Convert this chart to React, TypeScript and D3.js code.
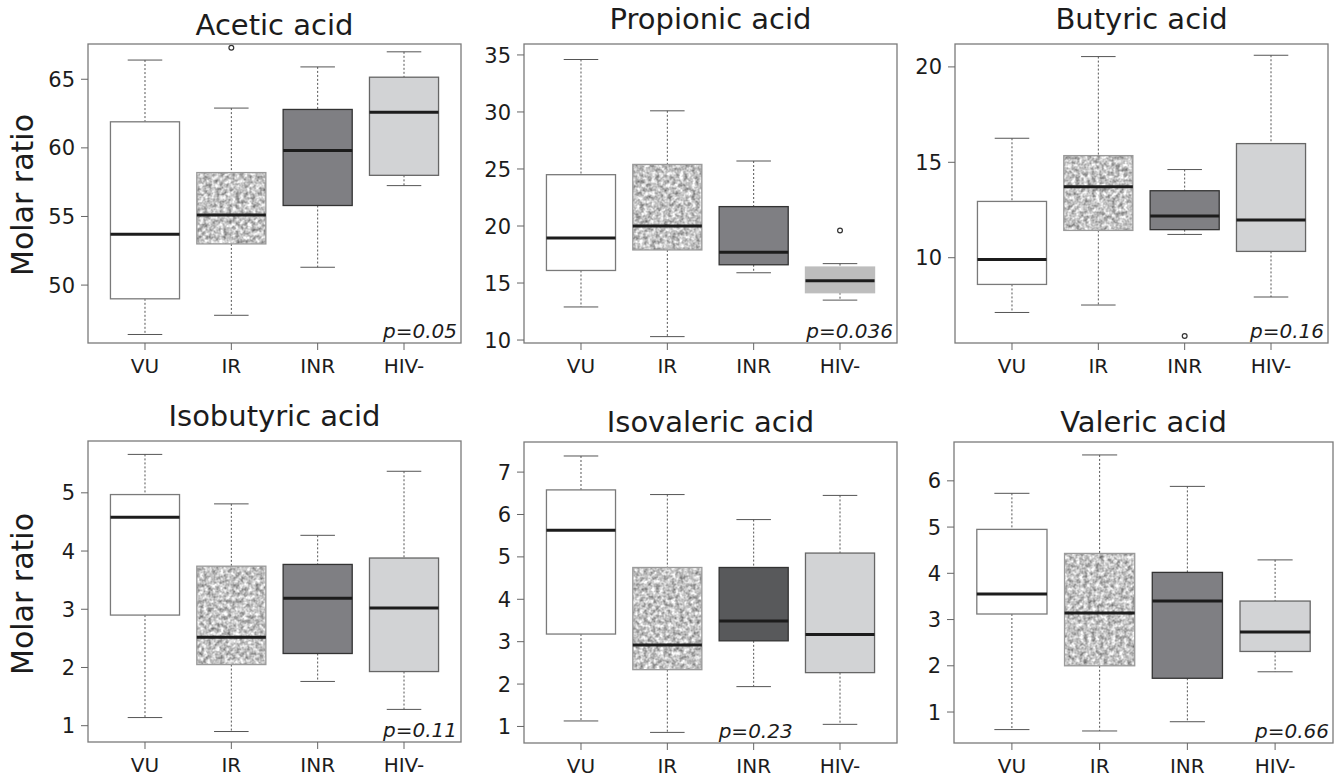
import React from 'react';
import * as d3 from 'd3';

// groups on the x axis
const groups = ['VU', 'IR', 'INR', 'HIV-'];

// box summaries per group: [lower whisker, Q1, median, Q3, upper whisker]
const acetic = [[46.4, 49.0, 53.7, 61.9, 66.4], [47.8, 53.0, 55.1, 58.2, 62.9], [51.3, 55.8, 59.8, 62.8, 65.9], [57.25, 58.0, 62.6, 65.15, 67.0]];
const aceticOut = [[], [67.3], [], []];
const aceticTicks = [50, 55, 60, 65];
const aceticRange = [45.78, 67.57];

const propionic = [[12.9, 16.1, 18.95, 24.5, 34.6], [10.3, 17.9, 20.0, 25.4, 30.1], [15.9, 16.6, 17.7, 21.7, 25.7], [13.5, 14.15, 15.2, 16.4, 16.7]];
const propionicOut = [[], [], [], [19.6]];
const propionicTicks = [10, 15, 20, 25, 30, 35];
const propionicRange = [9.74, 35.96];

const butyric = [[7.13, 8.6, 9.9, 12.95, 16.26], [7.52, 11.43, 13.72, 15.35, 20.54], [11.22, 11.47, 12.19, 13.51, 14.62], [7.94, 10.33, 11.98, 15.98, 20.61]];
const butyricOut = [[], [], [5.9], []];
const butyricTicks = [10, 15, 20];
const butyricRange = [5.53, 21.2];

const isobutyric = [[1.14, 2.9, 4.58, 4.97, 5.66], [0.9, 2.05, 2.52, 3.74, 4.81], [1.76, 2.24, 3.19, 3.77, 4.27], [1.28, 1.93, 3.02, 3.88, 5.37]];
const isobutyricOut = [[], [], [], []];
const isobutyricTicks = [1, 2, 3, 4, 5];
const isobutyricRange = [0.72, 5.89];

const isovaleric = [[1.13, 3.18, 5.63, 6.58, 7.38], [0.86, 2.34, 2.92, 4.75, 6.47], [1.94, 3.02, 3.49, 4.75, 5.88], [1.05, 2.27, 3.17, 5.09, 6.45]];
const isovalericOut = [[], [], [], []];
const isovalericTicks = [1, 2, 3, 4, 5, 6, 7];
const isovalericRange = [0.61, 7.71];

const valeric = [[0.62, 3.12, 3.55, 4.95, 5.73], [0.59, 2.0, 3.14, 4.43, 6.56], [0.79, 1.73, 3.4, 4.02, 5.88], [1.87, 2.31, 2.73, 3.4, 4.29]];
const valericOut = [[], [], [], []];
const valericTicks = [1, 2, 3, 4, 5, 6];
const valericRange = [0.33, 6.84];

const titles = ['Acetic acid', 'Propionic acid', 'Butyric acid', 'Isobutyric acid', 'Isovaleric acid', 'Valeric acid'];
const pLabels = ['p=0.05', 'p=0.036', 'p=0.16', 'p=0.11', 'p=0.23', 'p=0.66'];

const FONT = '"DejaVu Sans", sans-serif';
const INK = '#1c1c1c';

const baseFills = ['#ffffff', 'url(#speckle)', '#7f7f83', '#d2d3d5'];
const boxStrokes = ['#7a7a7a', '#9a9a9a', '#333333', '#666666'];

const panels = [
  { stats: acetic, out: aceticOut, ticks: aceticTicks, range: aceticRange, x0: 88, x1: 461, y0: 44, y1: 343, titleY: 35, pMid: false },
  { stats: propionic, out: propionicOut, ticks: propionicTicks, range: propionicRange, x0: 524, x1: 897, y0: 44, y1: 343, titleY: 29, pMid: false, fills: { 3: '#bdbdbd' }, strokes: { 3: '#bdbdbd' } },
  { stats: butyric, out: butyricOut, ticks: butyricTicks, range: butyricRange, x0: 955, x1: 1328, y0: 44, y1: 343, titleY: 29, pMid: false },
  { stats: isobutyric, out: isobutyricOut, ticks: isobutyricTicks, range: isobutyricRange, x0: 88, x1: 461, y0: 441, y1: 742, titleY: 426, pMid: false },
  { stats: isovaleric, out: isovalericOut, ticks: isovalericTicks, range: isovalericRange, x0: 524, x1: 897, y0: 442, y1: 743, titleY: 432, pMid: true, fills: { 2: '#58595b' } },
  { stats: valeric, out: valericOut, ticks: valericTicks, range: valericRange, x0: 954, x1: 1333, y0: 442, y1: 743, titleY: 432, pMid: false },
];

function Panel({ p, i }: { p: any; i: number }) {
  const x = d3.scaleLinear().domain([0.34, 4.66]).range([p.x0, p.x1]);
  const y = d3.scaleLinear().domain(p.range).range([p.y1, p.y0]);
  const step = x(2) - x(1);
  const half = step * 0.4;
  const cap = step * 0.2;
  const cx0 = (p.x0 + p.x1) / 2;

  return (
    <g>
      <text x={cx0} y={p.titleY} textAnchor="middle" fontFamily={FONT} fontSize={29} fill={INK}>{titles[i]}</text>
      {p.stats.map((s: number[], g: number) => {
        const cx = x(g + 1);
        const fill = (p.fills && p.fills[g]) || baseFills[g];
        const stroke = (p.strokes && p.strokes[g]) || boxStrokes[g];
        return (
          <g key={g}>
            <line x1={cx} x2={cx} y1={y(s[4])} y2={y(s[3])} stroke="#555" strokeDasharray="2,2" />
            <line x1={cx} x2={cx} y1={y(s[1])} y2={y(s[0])} stroke="#555" strokeDasharray="2,2" />
            <line x1={cx - cap} x2={cx + cap} y1={y(s[4])} y2={y(s[4])} stroke="#555" />
            <line x1={cx - cap} x2={cx + cap} y1={y(s[0])} y2={y(s[0])} stroke="#555" />
            {g === 1 ? (
              <rect x={cx - half} y={y(s[3])} width={half * 2} height={y(s[1]) - y(s[3])} fill="#c4c4c4" filter="url(#speckle)" />
            ) : null}
            <rect x={cx - half} y={y(s[3])} width={half * 2} height={y(s[1]) - y(s[3])}
              fill={g === 1 ? 'none' : fill} stroke={stroke} strokeWidth={1.3} />
            <line x1={cx - half} x2={cx + half} y1={y(s[2])} y2={y(s[2])} stroke={INK} strokeWidth={3} />
            {p.out[g].map((o: number, k: number) => (
              <circle key={k} cx={cx} cy={y(o)} r={2.4} fill="#fff" stroke="#333" strokeWidth={1.2} />
            ))}
          </g>
        );
      })}
      <rect x={p.x0} y={p.y0} width={p.x1 - p.x0} height={p.y1 - p.y0} fill="none" stroke="#7a7a7a" strokeWidth={1.3} />
      {p.ticks.map((t: number) => (
        <g key={t}>
          <line x1={p.x0 - 7} x2={p.x0} y1={y(t)} y2={y(t)} stroke="#666" />
          <text x={p.x0 - 13} y={y(t)} dy="0.36em" textAnchor="end" fontFamily={FONT} fontSize={21} fill={INK}>{t}</text>
        </g>
      ))}
      {groups.map((gname, g) => (
        <g key={gname}>
          <line x1={x(g + 1)} x2={x(g + 1)} y1={p.y1} y2={p.y1 + 7} stroke="#666" />
          <text x={x(g + 1)} y={p.y1 + 30} textAnchor="middle" fontFamily={FONT} fontSize={20} fill={INK}>{gname}</text>
        </g>
      ))}
      <text x={p.pMid ? x(3) + 2 : p.x1 - 4} y={p.y1 - 5} textAnchor={p.pMid ? 'middle' : 'end'}
        fontFamily={FONT} fontStyle="italic" fontSize={20} fill={INK}>{pLabels[i]}</text>
    </g>
  );
}

export default function App() {
  return (
    <svg width={1343} height={780} style={{ position: 'absolute', left: 0, top: 0, background: '#fff' }}>
      <defs>
        <filter id="speckle" x="0" y="0" width="1" height="1" colorInterpolationFilters="sRGB">
          <feTurbulence type="fractalNoise" baseFrequency="0.25" numOctaves={2} seed={4} result="n" />
          <feColorMatrix in="n" type="matrix"
            values="0.85 0 0 0 0.34  0.85 0 0 0 0.34  0.85 0 0 0 0.34  0 0 0 0 1" result="g" />
          <feComposite in="g" in2="SourceGraphic" operator="in" />
        </filter>
      </defs>
      <rect width={1343} height={780} fill="#fff" />
      {panels.map((p, i) => <Panel key={i} p={p} i={i} />)}
      <text transform="translate(33,195) rotate(-90)" textAnchor="middle" fontFamily={FONT} fontSize={30} fill={INK}>Molar ratio</text>
      <text transform="translate(33,594) rotate(-90)" textAnchor="middle" fontFamily={FONT} fontSize={30} fill={INK}>Molar ratio</text>
    </svg>
  );
}
